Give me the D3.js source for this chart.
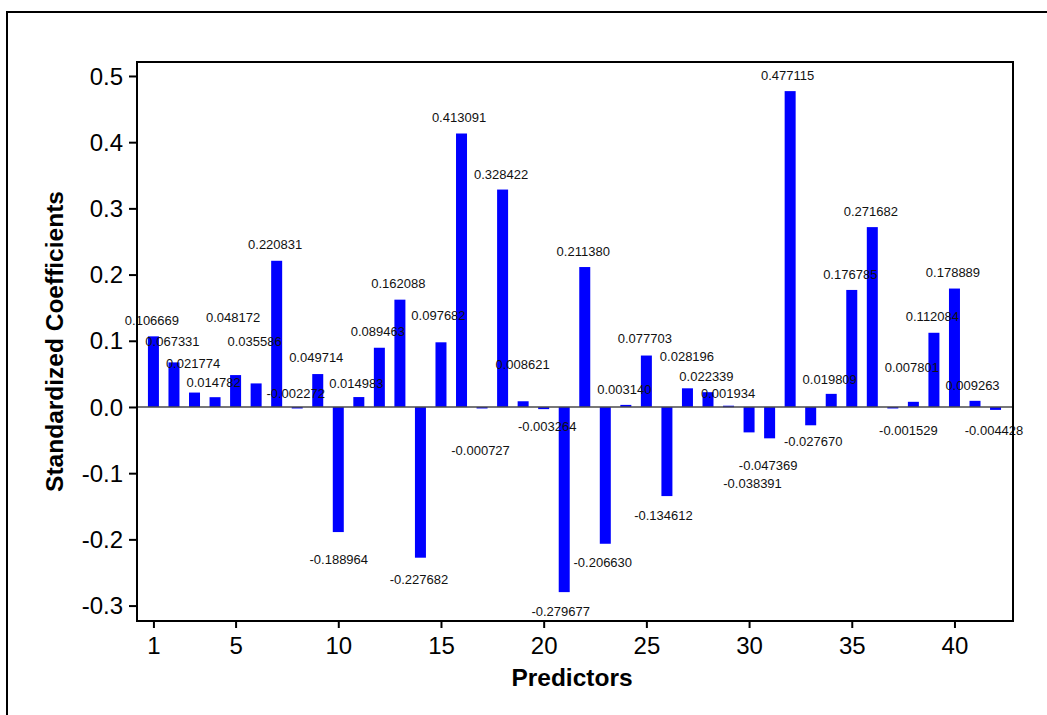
<!DOCTYPE html>
<html>
<head>
<meta charset="utf-8">
<script src="https://cdn.jsdelivr.net/npm/d3@7/dist/d3.min.js"></script>
<style>
  html, body { margin: 0; padding: 0; background: #fff; }
  svg { display: block; }
</style>
</head>
<body>
<script>
// Predictor indices and their standardized regression coefficients
const predictors = d3.range(1, 43);
const coefficients = [
  0.106669, 0.067331, 0.021774, 0.014782, 0.048172, 0.035586, 0.220831,
  -0.002272, 0.049714, -0.188964, 0.014983, 0.089463, 0.162088, -0.227682,
  0.097682, 0.413091, -0.000727, 0.328422, 0.008621, -0.003264, -0.279677,
  0.211380, -0.206630, 0.003140, 0.077703, -0.134612, 0.028196, 0.022339,
  0.001934, -0.038391, -0.047369, 0.477115, -0.027670, 0.019809, 0.176785,
  0.271682, -0.001529, 0.007801, 0.112084, 0.178889, 0.009263, -0.004428
];
const xTicks = [1, 5, 10, 15, 20, 25, 30, 35, 40];
const yTicks = [-0.3, -0.2, -0.1, 0.0, 0.1, 0.2, 0.3, 0.4, 0.5];

// Value-label nudges (px) that keep crowded labels apart
const labelNudgeX = [0,0,0,0,-1,0,0, 0,0,2,-1,0,0,0, -1,-1,0,0,1,5,-2, 0,-1,0,0,-2,1,0, 1,5,0,-1,4,0,0, 0,17,0,0,0,-1,0];
const labelNudgeY = [0,-5,-13,1,-42,-26,0, -34,-1,8,2,0,0,3, -11,0,24,1,-21,-2,0, 0,0,0,-1,0,-16,0, 4,32,8,0,-3,1,0, 0,3,-18,0,0,0,1];

const W = 1047, H = 715;
const plot = { left: 137, top: 62, right: 1013, bottom: 621 };
const font = "'Liberation Sans', Arial, sans-serif";

const svg = d3.select("body").append("svg")
  .attr("width", W).attr("height", H);

// outer frame (runs off the right and bottom edges)
svg.append("rect")
  .attr("x", 7).attr("y", 12)
  .attr("width", W + 20).attr("height", H + 20)
  .attr("fill", "none").attr("stroke", "#000").attr("stroke-width", 2);

const x = d3.scaleLinear().domain([0.2, 42.85]).range([plot.left, plot.right]);
const y = d3.scaleLinear().domain([-0.3233, 0.5211]).range([plot.bottom, plot.top]);

const barW = 11;

// bars
svg.append("g").selectAll("rect")
  .data(coefficients)
  .join("rect")
  .attr("x", (d, i) => x(predictors[i]) - barW / 2)
  .attr("y", d => y(Math.max(0, d)))
  .attr("width", barW)
  .attr("height", d => Math.max(1.5, Math.abs(y(d) - y(0))))
  .attr("fill", "#0000ff");

// zero reference line
svg.append("line")
  .attr("x1", plot.left).attr("x2", plot.right)
  .attr("y1", y(0)).attr("y2", y(0))
  .attr("stroke", "#4a4a4a").attr("stroke-width", 1.6);

// value labels
svg.append("g").selectAll("text")
  .data(coefficients)
  .join("text")
  .attr("x", (d, i) => x(predictors[i]) - 1.5 + labelNudgeX[i])
  .attr("y", (d, i) => y(d) + (d >= 0 ? -16 : 19) + labelNudgeY[i])
  .attr("dy", "0.36em")
  .attr("text-anchor", "middle")
  .attr("font-family", font)
  .attr("font-size", 13)
  .attr("fill", "#111")
  .text(d => d.toFixed(6));

// axes
const yAxis = svg.append("g")
  .attr("transform", `translate(${plot.left},0)`)
  .call(d3.axisLeft(y).tickValues(yTicks).tickFormat(d => d.toFixed(1)).tickSize(8).tickPadding(6));
const xAxis = svg.append("g")
  .attr("transform", `translate(0,${plot.bottom})`)
  .call(d3.axisBottom(x).tickValues(xTicks).tickFormat(d3.format("d")).tickSize(7).tickPadding(9));

[yAxis, xAxis].forEach(g => {
  g.select(".domain").remove();
  g.selectAll(".tick line").attr("stroke", "#000").attr("stroke-width", 2);
  g.selectAll(".tick text")
    .attr("font-family", font)
    .attr("font-size", 24)
    .attr("fill", "#000");
});
yAxis.selectAll(".tick text").attr("dy", "0.34em");

// plot frame
svg.append("rect")
  .attr("x", plot.left).attr("y", plot.top)
  .attr("width", plot.right - plot.left).attr("height", plot.bottom - plot.top)
  .attr("fill", "none").attr("stroke", "#000").attr("stroke-width", 2);

// axis titles
svg.append("text")
  .attr("x", 572).attr("y", 686)
  .attr("text-anchor", "middle")
  .attr("font-family", font)
  .attr("font-weight", "bold").attr("font-size", 24.5)
  .text("Predictors");

svg.append("text")
  .attr("transform", `translate(63,${(plot.top + plot.bottom) / 2}) rotate(-90)`)
  .attr("text-anchor", "middle")
  .attr("font-family", font)
  .attr("font-weight", "bold").attr("font-size", 24.5)
  .text("Standardized Coefficients");
</script>
</body>
</html>
